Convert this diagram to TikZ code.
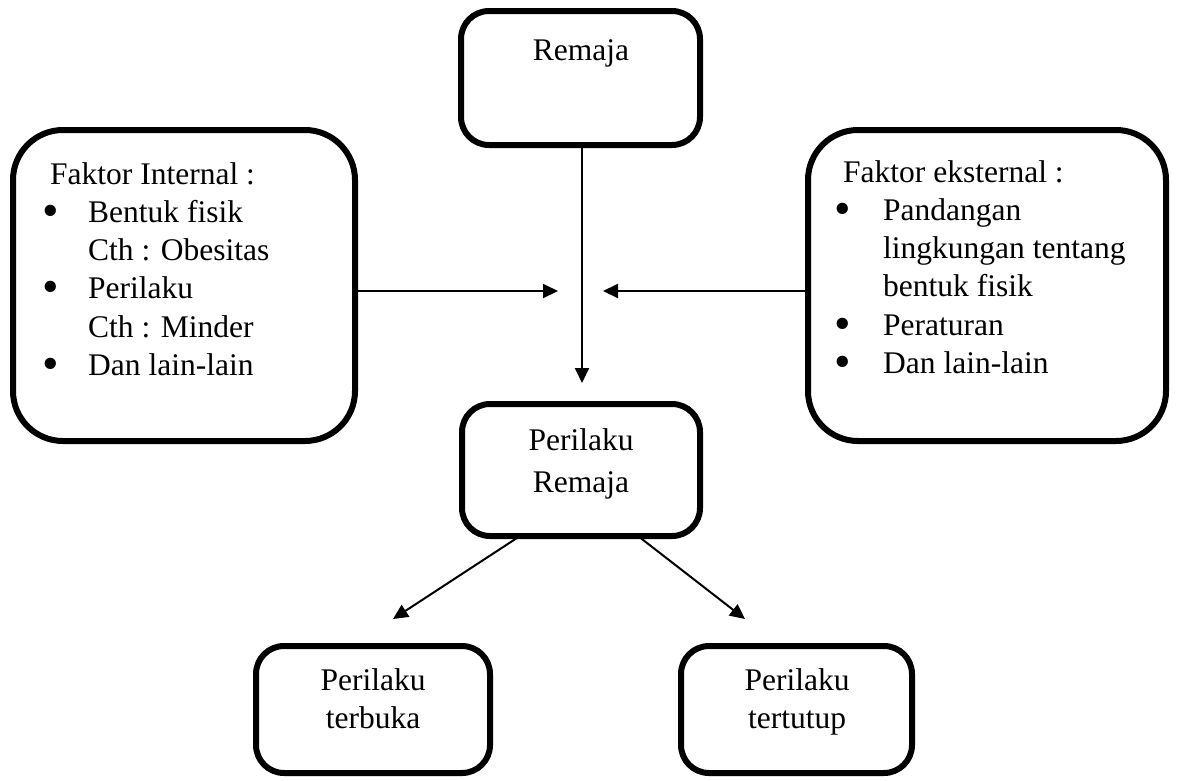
\documentclass[tikz,border=0pt]{standalone}
\usepackage{fontspec}
\setmainfont{Liberation Serif}
\usetikzlibrary{arrows.meta}
\newcommand{\bigbul}{\raisebox{-4pt}{\scalebox{1.5}{•}}}
\begin{document}
\begin{tikzpicture}[x=1pt,y=-1pt,
  box/.style={draw, line width=6pt, inner sep=0pt, outer sep=0pt},
  bigbox/.style={box, rounded corners=50pt},
  smallbox/.style={box, rounded corners=28pt},
  arr/.style={line width=2pt, -{Triangle[length=15pt,width=14pt]}},
  lbl/.style={inner sep=0pt, font=\fontsize{31.5}{38.3}\selectfont},
  ctxt/.style={lbl, anchor=base},
  ltxt/.style={lbl, anchor=base west}]
\useasboundingbox (0,0) rectangle (1178,780);
% boxes
\node[smallbox, minimum width=239pt, minimum height=134pt] (remaja) at (580.5,78) {};
\node[smallbox, minimum width=238pt, minimum height=132pt] (perilaku) at (581,470) {};
\node[bigbox, minimum width=342pt, minimum height=311pt] (internal) at (184,285.5) {};
\node[bigbox, minimum width=358pt, minimum height=311pt] (eksternal) at (987,285.5) {};
\node[smallbox, minimum width=234pt, minimum height=127pt] (terbuka) at (373,709.5) {};
\node[smallbox, minimum width=231pt, minimum height=127pt] (tertutup) at (796.5,709.5) {};
% texts
\node[ctxt] (tremaja) at (581,60) {Remaja};
\node[ctxt] (tperilaku) at (581,450) {\begin{tabular}[t]{@{}c@{}}Perilaku\\[3.7pt]Remaja\end{tabular}};
\node[ctxt] (tterbuka) at (373,690) {\begin{tabular}[t]{@{}c@{}}Perilaku\\terbuka\end{tabular}};
\node[ctxt] (ttertutup) at (797,690) {\begin{tabular}[t]{@{}c@{}}Perilaku\\tertutup\end{tabular}};
\node[ltxt] (tinternal) at (42,184) {\begin{tabular}[t]{@{}l@{}}
\hspace{8pt}Faktor Internal :\\
\makebox[46pt][l]{\bigbul}Bentuk fisik\\
\hspace{46pt}Cth : Obesitas\\
\makebox[46pt][l]{\bigbul}Perilaku\\
\hspace{46pt}Cth : Minder\\
\makebox[46pt][l]{\bigbul}Dan lain-lain
\end{tabular}};
\node[ltxt] (teksternal) at (834,182) {\begin{tabular}[t]{@{}l@{}}
\hspace{9pt}Faktor eksternal :\\
\makebox[49pt][l]{\bigbul}Pandangan\\
\hspace{49pt}lingkungan tentang\\
\hspace{49pt}bentuk fisik\\
\makebox[49pt][l]{\bigbul}Peraturan\\
\makebox[49pt][l]{\bigbul}Dan lain-lain
\end{tabular}};
% connectors
\coordinate (vtip) at (582,383);
\coordinate (ltip) at (558,291);
\coordinate (rtip) at (603,291);
\coordinate (dl) at (393,619);
\coordinate (dr) at (745,619);
\draw[arr] (remaja.south -| vtip) -- (vtip);
\draw[arr] (internal.east |- ltip) -- (ltip);
\draw[arr] (eksternal.west |- rtip) -- (rtip);
\draw[arr] ([xshift=-61pt]perilaku.south) -- (dl);
\draw[arr] ([xshift=57pt]perilaku.south) -- (dr);
\end{tikzpicture}
\end{document}
